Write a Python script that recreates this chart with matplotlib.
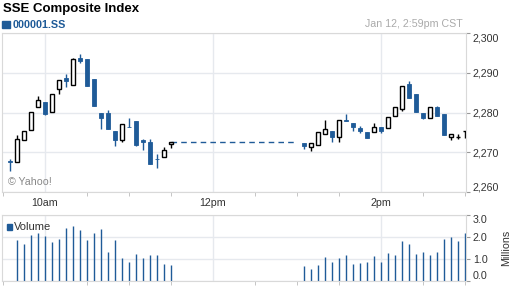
import matplotlib
matplotlib.use("Agg")
import matplotlib.pyplot as plt
from matplotlib.patches import Rectangle
from matplotlib.ticker import FuncFormatter, MultipleLocator, FixedLocator
import pandas as pd

plt.rcParams['font.family'] = ['Liberation Sans', 'DejaVu Sans']

# five minute bars, morning session and afternoon session
am_times = pd.date_range("2012-01-12 09:35", "2012-01-12 11:30", freq="5min")
pm_times = pd.date_range("2012-01-12 13:05", "2012-01-12 15:00", freq="5min")

am_open = [2267.7, 2267.5, 2273.0, 2275.75, 2281.5, 2282.75, 2280.25, 2286.0, 2288.8, 2287.0, 2293.8, 2293.6,
           2288.4, 2280.0, 2280.0, 2275.5, 2273.0, 2276.45, 2277.8, 2273.2, 2272.6, 2268.25, 2268.7, 2272.05]
am_high = [2268.2, 2274.3, 2275.5, 2280.25, 2284.1, 2282.75, 2284.75, 2288.25, 2289.75, 2293.75, 2294.8, 2293.6,
           2288.4, 2280.0, 2280.6, 2275.5, 2277.2, 2278.7, 2277.8, 2273.4, 2273.4, 2269.5, 2271.4, 2272.6]
am_low = [2265.4, 2267.5, 2273.0, 2275.75, 2281.5, 2279.4, 2280.25, 2284.7, 2286.4, 2287.0, 2292.4, 2286.7,
          2281.7, 2275.9, 2275.8, 2271.5, 2272.6, 2276.4, 2271.7, 2270.5, 2267.1, 2266.1, 2268.7, 2271.2]
am_close = [2267.5, 2273.25, 2275.5, 2280.25, 2283.25, 2279.7, 2284.75, 2288.25, 2287.9, 2293.5, 2292.9, 2286.7,
            2281.7, 2278.6, 2275.8, 2273.0, 2277.2, 2276.4, 2271.9, 2272.5, 2267.1, 2268.2, 2270.5, 2272.6]
am_vol = [0.0, 1.85, 1.71, 2.12, 2.17, 2.06, 1.76, 1.94, 2.43, 2.52, 2.35, 1.85,
          2.21, 2.38, 1.33, 1.88, 1.05, 0.89, 1.24, 1.05, 1.21, 1.21, 0.79, 0.73]

pm_open = [2272.3, 2271.3, 2271.8, 2274.7, 2275.4, 2273.8, 2278.2, 2277.3, 2276.15, 2275.2, 2275.1, 2276.4,
           2276.2, 2279.2, 2280.8, 2287.1, 2284.6, 2279.8, 2278.7, 2281.5, 2279.6, 2273.9, 2273.9, 2275.4]
pm_high = [2272.3, 2272.3, 2275.1, 2278.2, 2275.4, 2278.2, 2279.6, 2277.3, 2276.7, 2275.2, 2277.4, 2276.4,
           2279.0, 2281.5, 2286.8, 2288.0, 2284.6, 2279.8, 2281.5, 2281.8, 2279.6, 2274.6, 2274.6, 2275.45]
pm_low = [2270.8, 2270.4, 2271.8, 2274.7, 2272.6, 2272.5, 2277.8, 2275.3, 2274.9, 2273.6, 2275.1, 2274.8,
          2276.2, 2279.2, 2280.5, 2283.7, 2280.2, 2278.4, 2278.7, 2279.2, 2274.4, 2273.1, 2273.4, 2273.5]
pm_close = [2271.7, 2272.3, 2275.1, 2275.9, 2273.8, 2278.2, 2277.8, 2276.3, 2275.3, 2273.6, 2276.3, 2275.3,
            2279.0, 2281.5, 2286.8, 2283.7, 2280.2, 2278.7, 2281.5, 2279.2, 2274.4, 2274.6, 2273.95, 2275.45]
pm_vol = [0.69, 0.55, 0.73, 1.10, 0.87, 1.05, 1.19, 0.78, 0.84, 0.87, 1.15, 0.87,
          1.28, 1.19, 1.83, 1.69, 1.24, 1.33, 1.19, 1.33, 1.92, 2.02, 1.83, 2.17]

price_ticks = [2260, 2270, 2280, 2290, 2300]
vol_ticks = [0.0, 1.0, 2.0, 3.0]
hour_ticks = [10, 12, 14]
hour_labels = ["10am", "12pm", "2pm"]

BLUE = "#1f5b98"
GRID = "#e6e9ee"
SPINE = "#d9d9d9"


def minutes(ts):
    return [t.hour * 60 + t.minute for t in ts]


times = minutes(am_times) + minutes(pm_times)
opens = am_open + pm_open
highs = am_high + pm_high
lows = am_low + pm_low
closes = am_close + pm_close
vols = am_vol + pm_vol

fig = plt.figure(figsize=(5.12, 2.88), dpi=100)
ax = fig.add_axes([2 / 512, 1 - 192 / 288, 464 / 512, 158.7 / 288])
axv = fig.add_axes([2 / 512, 1 - 281 / 288, 464 / 512, 65.7 / 288])

for a in (ax, axv):
    a.set_xlim(569.3, 900.7)
    a.xaxis.set_major_locator(FixedLocator([h * 60 for h in hour_ticks]))
    a.xaxis.set_minor_locator(MultipleLocator(30))
    a.grid(True, which="major", color=GRID, linewidth=1)
    a.set_axisbelow(True)
    for s in a.spines.values():
        s.set_color(SPINE)
    a.yaxis.tick_right()
    a.tick_params(axis="y", length=3, color="#999999", labelsize=7.7, labelcolor="#333333", pad=2)
    a.tick_params(axis="x", which="major", length=0, labelsize=7.7, labelcolor="#333333", pad=4)
    a.tick_params(axis="x", which="minor", length=3, color="#bbbbbb")

# candles
for t, o, h, l, c in zip(times, opens, highs, lows, closes):
    up = c >= o
    col = "black" if up else BLUE
    ax.vlines(t, l, h, color=col, linewidth=1, zorder=2)
    if up:
        ax.bar(t, max(c - o, 0.05), bottom=o, width=2.7, facecolor="white",
               edgecolor="black", linewidth=1, zorder=3)
    else:
        ax.bar(t, max(o - c, 0.05), bottom=c, width=3.4, facecolor=BLUE,
               edgecolor=BLUE, linewidth=0.6, zorder=3)

# lunch break
ax.plot([690, 780], [am_close[-1], am_close[-1]], color=BLUE, linewidth=1,
        linestyle=(0, (4, 3)), zorder=2)

ax.set_ylim(2260, 2300)
ax.set_yticks(price_ticks)
ax.yaxis.set_major_formatter(FuncFormatter(lambda v, p: f"{v:,.0f}"))
ax.set_xticklabels(hour_labels)
ylabs = ax.get_yticklabels()
ylabs[0].set_va("bottom")
ylabs[-1].set_va("top")

ax.text(0.012, 0.06, "\u00a9 Yahoo!", transform=ax.transAxes, fontsize=7.7, color="#888888", va="center")

# volume
axv.vlines(times, 0, vols, color=BLUE, linewidth=1)
axv.set_ylim(0, 3)
axv.set_yticks(vol_ticks)
axv.yaxis.set_major_formatter(FuncFormatter(lambda v, p: f"{v:.1f}"))
axv.set_xticklabels([])
vlabs = axv.get_yticklabels()
vlabs[0].set_va("bottom")
vlabs[-1].set_va("top")
fig.text(506 / 512, 1 - 248 / 288, "Millions", rotation=90, fontsize=7.7, color="#333333",
         ha="center", va="center")

fig.patches.append(Rectangle((6.7 / 512, 1 - 230 / 288), 5.3 / 512, 6.3 / 288,
                             transform=fig.transFigure, color=BLUE))
fig.text(14 / 512, 1 - 227 / 288, "Volume", fontsize=8, color="#333333", va="center")

# header
fig.text(3 / 512, 1 - 9 / 288, "SSE Composite Index", fontsize=9.5, fontweight="bold", va="center")
fig.patches.append(Rectangle((2 / 512, 1 - 28 / 288), 8 / 512, 7.3 / 288,
                             transform=fig.transFigure, color=BLUE))
fig.text(13 / 512, 1 - 24.5 / 288, "000001.SS", fontsize=7.8, fontweight="bold", color=BLUE, va="center")
fig.text(463 / 512, 1 - 24 / 288, "Jan 12, 2:59pm CST", fontsize=7.7, color="#aaaaaa", va="center", ha="right")

fig.savefig("out.png", dpi=100)
